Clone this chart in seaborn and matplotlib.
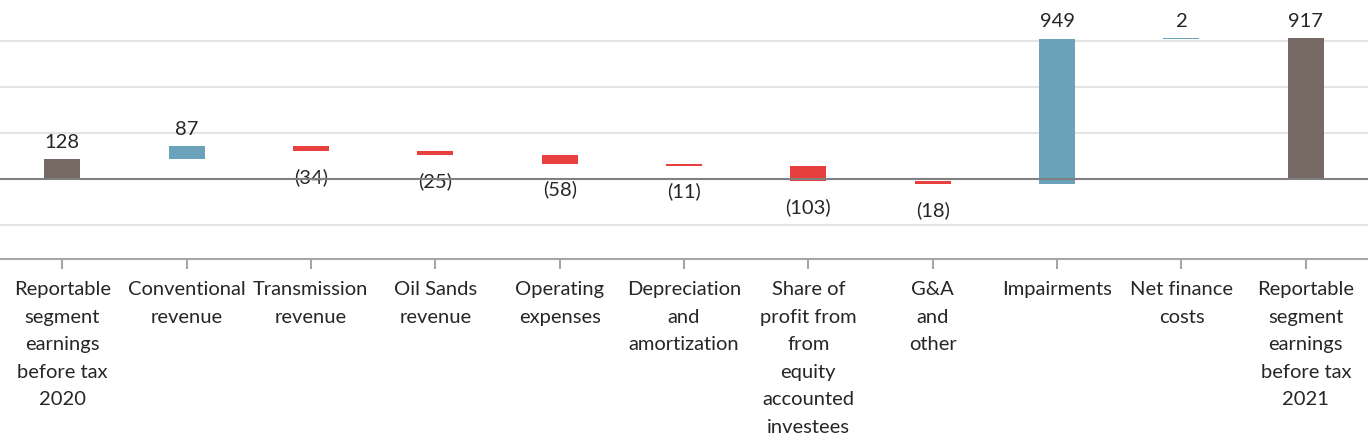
import numpy as np
import pandas as pd
import matplotlib
matplotlib.use('Agg')
import matplotlib.pyplot as plt
import seaborn as sns

categories = ['Reportable\nsegment\nearnings\nbefore tax\n2020',
              'Conventional\nrevenue',
              'Transmission\nrevenue',
              'Oil Sands\nrevenue',
              'Operating\nexpenses',
              'Depreciation\nand\namortization',
              'Share of\nprofit from\nfrom\nequity\naccounted\ninvestees',
              'G&A\nand\nother',
              'Impairments',
              'Net finance\ncosts',
              'Reportable\nsegment\nearnings\nbefore tax\n2021']
changes = [128, 87, -34, -25, -58, -11, -103, -18, 949, 2, 917]
kinds = ['total', 'up', 'down', 'down', 'down', 'down', 'down', 'down', 'up', 'up', 'total']

kind_colors = {'total': '#766964', 'up': '#6AA2BA', 'down': '#E8403F'}

# running totals for the waterfall
start = []
run = 0
for v, k in zip(changes, kinds):
    if k == 'total':
        start.append(0)
        run = v
    else:
        start.append(run)
        run += v
start = np.array(start)
end = np.where(np.array(kinds) == 'total', np.array(changes), start + np.array(changes))
bottoms = np.minimum(start, end)
heights = np.abs(end - start)

df = pd.DataFrame({'cat': categories, 'height': heights, 'kind': kinds})

sns.set_style('white')
plt.rcParams['font.family'] = ['Lato', 'DejaVu Sans']

fig = plt.figure(figsize=(13.68, 4.4), dpi=100)
ax = fig.add_axes([0, (440 - 259) / 440, 1, 259 / 440])

pal = {c: kind_colors[k] for c, k in zip(categories, kinds)}
sns.barplot(data=df, x='cat', y='height', hue='cat', palette=pal, legend=False,
            width=0.29, saturation=1, ax=ax, zorder=3)

# move each bar to its floating position
for i, p in enumerate(ax.patches):
    p.set_y(bottoms[i])
    p.set_height(heights[i])
    p.set_linewidth(0)

# value labels
for i, v in enumerate(changes):
    if v >= 0:
        ax.annotate(f'{v}', (i, bottoms[i] + heights[i]), xytext=(0, 6),
                    textcoords='offset points', ha='center', va='bottom', fontsize=14.5)
    else:
        ax.annotate(f'({-v})', (i, bottoms[i]), xytext=(0, -12),
                    textcoords='offset points', ha='center', va='top', fontsize=14.5)

for g in [-300, 300, 600, 900]:
    ax.axhline(g, color='#E3E3E3', lw=1.5, zorder=0)
ax.axhline(0, color='#808080', lw=1.5, zorder=4)

ax.set_ylim(-522, 1168)
ax.set_xlim(-0.5, 10.5)
ax.set_xlabel('')
ax.set_ylabel('')
ax.set_yticks([])
for s in ['top', 'left', 'right']:
    ax.spines[s].set_visible(False)
ax.spines['bottom'].set_color('#A6A6A6')
ax.spines['bottom'].set_linewidth(1.5)
ax.set_xticks(range(len(categories)))
ax.set_xticklabels(categories, fontsize=14.5)
ax.tick_params(axis='x', bottom=True, length=7, width=1.5, color='#A6A6A6', pad=9)

fig.canvas.draw()
for t in ax.get_xticklabels():
    t.set_linespacing(1.75)

fig.savefig('out.png', dpi=100)
